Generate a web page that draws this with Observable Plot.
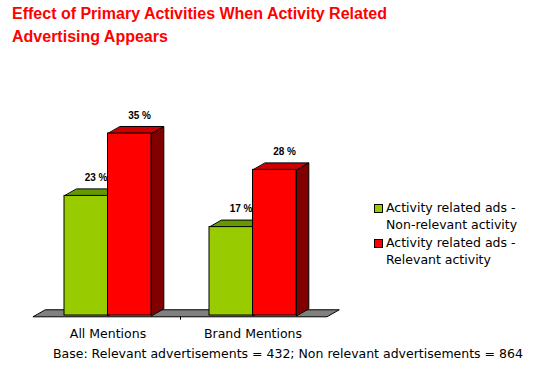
<!DOCTYPE html>
<html><head><meta charset="utf-8">
<script src="https://cdn.jsdelivr.net/npm/d3@7"></script>
<script src="https://cdn.jsdelivr.net/npm/@observablehq/plot@0.6"></script>
<style>
html,body{margin:0;padding:0;background:#fff;}
#wrap{position:relative;width:543px;height:372px;overflow:hidden;font-family:"DejaVu Sans",sans-serif;color:#000;}
#title{position:absolute;left:12px;top:2px;color:#ff0000;font-weight:bold;font-size:16px;font-family:"Liberation Sans",Arial,sans-serif;line-height:23px;white-space:nowrap;}
#chart{position:absolute;left:0;top:55px;}
#legend{position:absolute;left:374px;top:199px;font-size:12.5px;line-height:17px;white-space:nowrap;}
.item{display:flex;align-items:flex-start;margin-bottom:1px;}
.sw{width:7px;height:7px;border:1px solid #000;margin-top:5px;margin-right:3px;flex:none;}
#caption{position:absolute;left:53px;top:346px;font-size:12.5px;white-space:nowrap;}
</style></head>
<body><div id="wrap">
<div id="title">Effect of Primary Activities When Activity Related<br>Advertising Appears</div>
<div id="chart"></div>
<div id="legend"></div>
<div id="caption"></div>
</div>
<script>
const titleText = "Effect of Primary Activities When Activity Related Advertising Appears";
const categories = ["All Mentions", "Brand Mentions"];
const seriesNames = [["Activity related ads -", "Non-relevant activity"], ["Activity related ads -", "Relevant activity"]];
const nonRelevant = [23, 17];
const relevant = [35, 28];
const captionText = "Base: Relevant advertisements = 432; Non relevant advertisements = 864";

const colors = [
  {front: "#99cc00", top: "#669900", side: "#4d7300"},
  {front: "#ff0000", top: "#cc0000", side: "#800000"}
];
const D = 0.085, H = 1.35, BW = 0.3;

function faces(values, offset) {
  const fronts = [], tops = [], sides = [], labels = [];
  values.forEach((v, i) => {
    const x0 = i + offset, x1 = x0 + BW;
    fronts.push({x1: x0, x2: x1, y: v});
    [[x0, v], [x1, v], [x1 + D, v + H], [x0 + D, v + H]].forEach(([x, y]) => tops.push({x, y, z: i}));
    [[x1, 0], [x1, v], [x1 + D, v + H], [x1 + D, H]].forEach(([x, y]) => sides.push({x, y, z: i}));
    labels.push({x: x0 + BW / 2 + D * 0.8, y: v + H, text: v + " %"});
  });
  return {fronts, tops, sides, labels};
}
const series = [faces(nonRelevant, -BW), faces(relevant, 0)];

const floor = [];
[[-0.515, -0.25], [1.51, -0.25], [1.51 + D, H - 0.25], [-0.515 + D, H - 0.25]].forEach(([x, y]) => floor.push({x, y}));

const marks = [
  Plot.line(floor, {x: "x", y: "y", curve: "linear-closed", fill: "#808080", stroke: "#000", strokeWidth: 1}),
  Plot.ruleX([0.5], {y1: -0.25, y2: -0.9, stroke: "#000"})
];
series.forEach((s, k) => {
  const c = colors[k];
  marks.push(
    Plot.line(s.sides, {x: "x", y: "y", z: "z", curve: "linear-closed", fill: c.side, stroke: "#000", strokeWidth: 1}),
    Plot.line(s.tops, {x: "x", y: "y", z: "z", curve: "linear-closed", fill: c.top, stroke: "#000", strokeWidth: 1}),
    Plot.rect(s.fronts, {x1: "x1", x2: "x2", y1: 0, y2: "y", fill: c.front, stroke: "#000", strokeWidth: 1})
  );
});
series.forEach(s => {
  marks.push(Plot.text(s.labels, {x: "x", y: "y", text: "text", dy: -11, fontSize: 10, fontWeight: "bold", fontFamily: "Liberation Sans, Arial, sans-serif", fill: "#000"}));
});
marks.push(Plot.text(categories, {x: (d, i) => i, y: 0, text: d => d, dy: 18, fontSize: 12.5, fontFamily: "DejaVu Sans, sans-serif", fill: "#000"}));

const chart = Plot.plot({
  width: 543,
  height: 290,
  marginTop: 0, marginBottom: 30, marginLeft: 0, marginRight: 0,
  x: {domain: [-0.5, 1.5], range: [35, 325], axis: null},
  y: {domain: [0, 50], range: [260, 0], axis: null},
  style: {background: "transparent", overflow: "visible"},
  marks
});
document.getElementById("chart").appendChild(chart);

const legend = document.getElementById("legend");
seriesNames.forEach((lines, k) => {
  const item = document.createElement("div");
  item.className = "item";
  const sw = document.createElement("div");
  sw.className = "sw";
  sw.style.background = colors[k].front;
  const txt = document.createElement("div");
  txt.innerHTML = lines.join("<br>");
  item.appendChild(sw); item.appendChild(txt);
  legend.appendChild(item);
});
document.getElementById("caption").textContent = captionText;
</script>
</body></html>
